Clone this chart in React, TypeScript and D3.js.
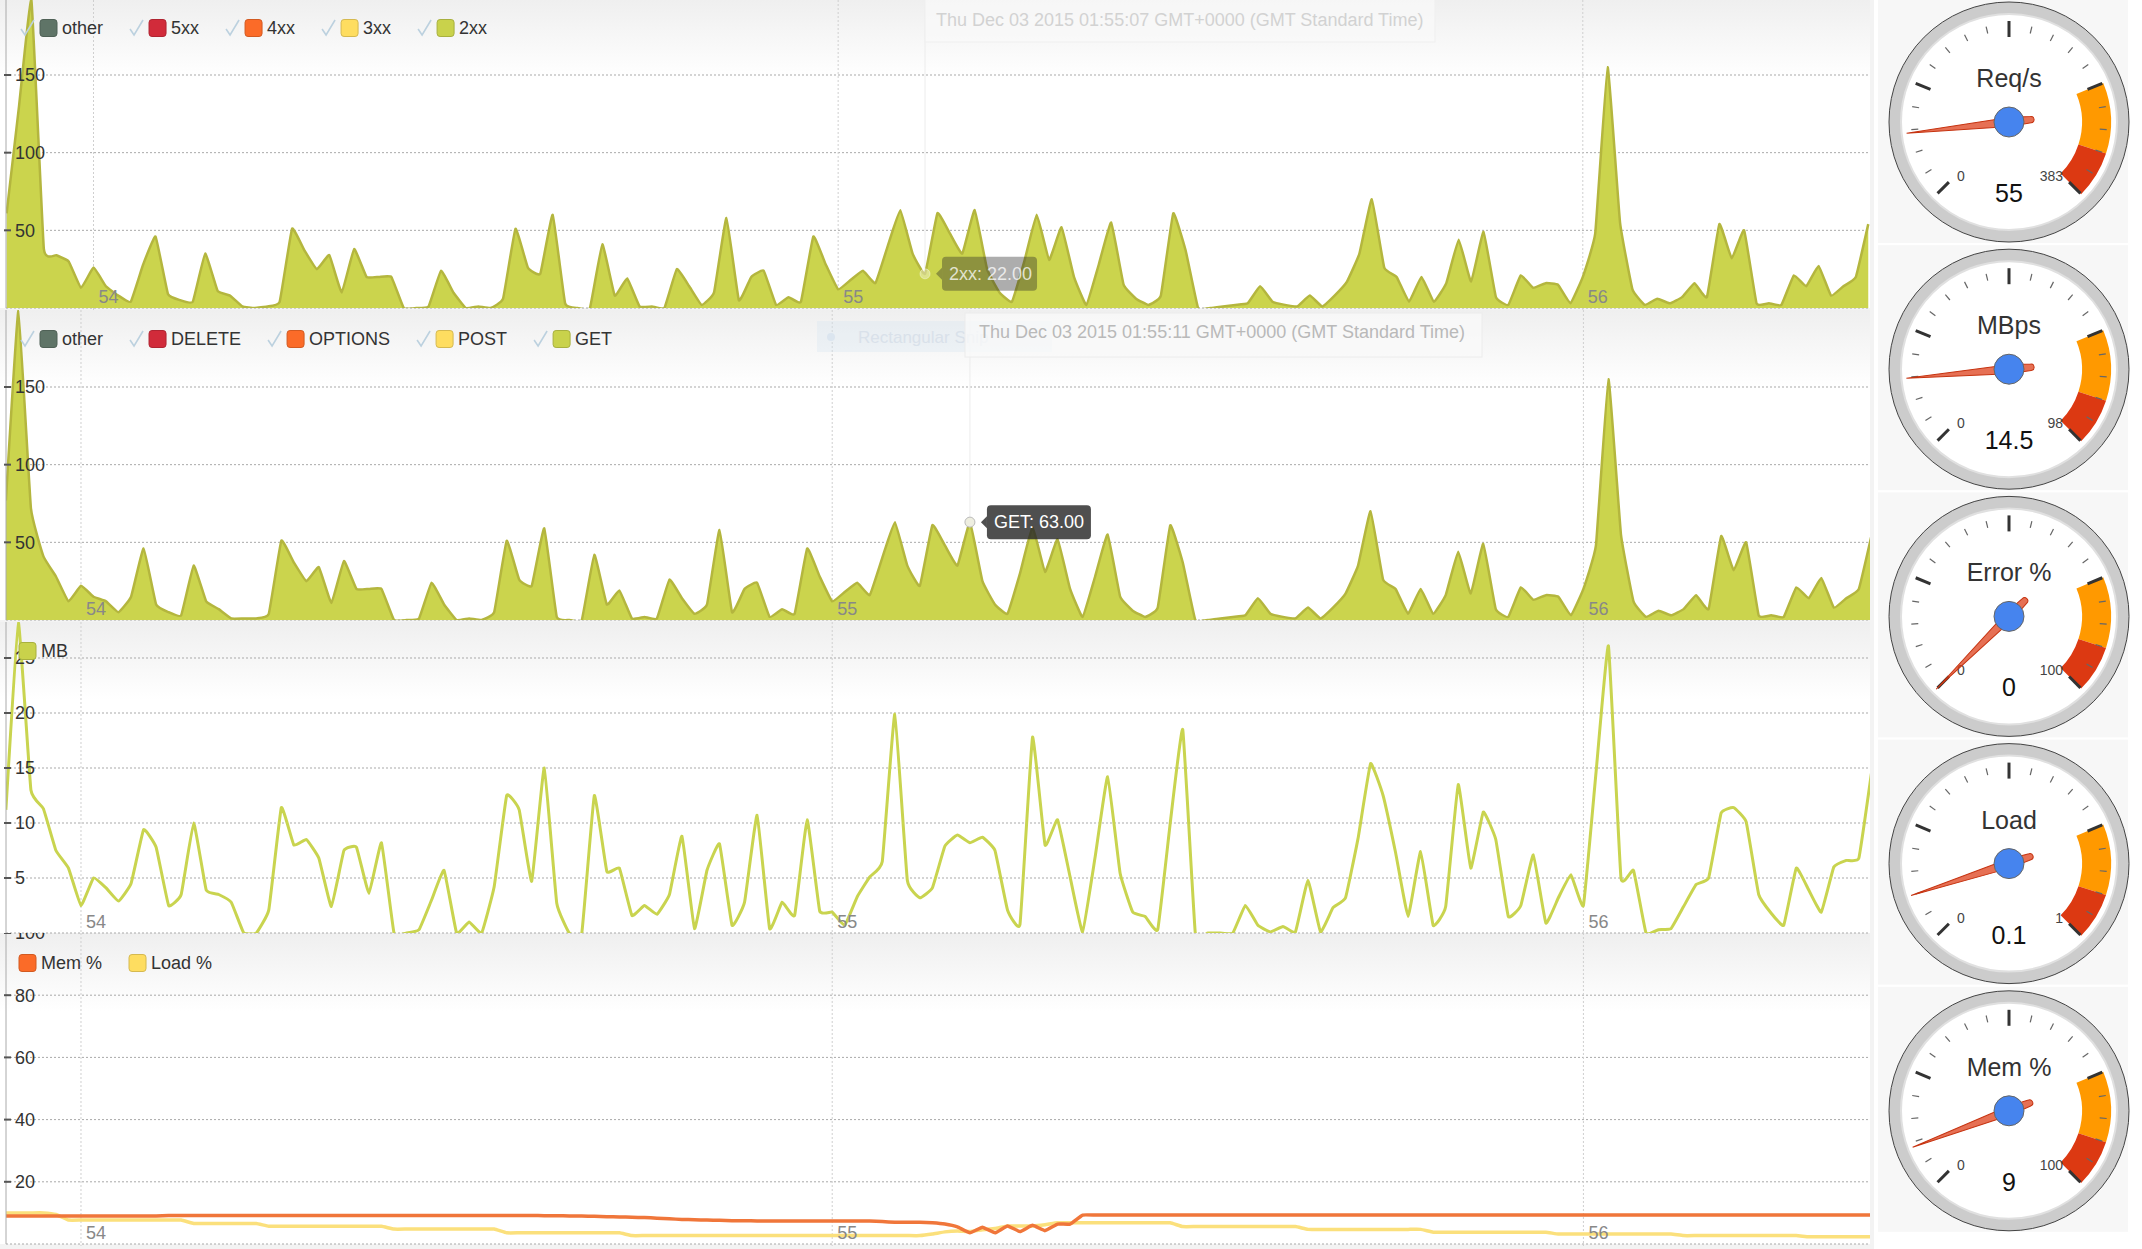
import React, { useEffect, useRef } from 'react';
import * as d3 from 'd3';

const W = 2142;
const H = 1249;
const FONT = '"Liberation Sans", Arial, Helvetica, sans-serif';

// samples are one per second, counted from 01:54:00
const statusStartSec = -7;
const status2xx = [
  61, 130, 198, 38, 34, 30, 13, 26, 14, 8,
  4, 28, 46, 9, 5, 4, 35, 11, 8, 1,
  0, 1, 4, 51, 37, 25, 34, 10, 38, 20,
  20, 20, 0, 0, 1, 24, 10, 0, 1, 0,
  6, 51, 26, 22, 60, 3, 0, 0, 41, 8,
  19, 1, 1, 0, 25, 14, 2, 10, 58, 5,
  20, 24, 2, 7, 4, 46, 28, 12, 18, 24,
  16, 40, 63, 35, 22, 61, 48, 35, 63, 25,
  10, 4, 30, 60, 31, 52, 20, 2, 28, 55,
  15, 6, 2, 8, 61, 37, 0, 0, 1, 2,
  3, 14, 4, 2, 1, 8, 1, 8, 17, 35,
  70, 26, 20, 4, 20, 4, 16, 44, 17, 49,
  7, 2, 21, 13, 16, 15, 3, 20, 48, 155,
  55, 12, 2, 6, 3, 7, 16, 7, 54, 32,
  50, 3, 3, 2, 21, 14, 27, 8, 14, 20,
  54
];

const methodStartSec = -6;
const methodGet = [
  77, 199, 72, 41, 28, 12, 22, 15, 12, 5,
  15, 46, 10, 5, 3, 35, 12, 7, 1, 1,
  1, 4, 51, 37, 25, 34, 11, 38, 20, 20,
  20, 0, 0, 1, 24, 10, 0, 1, 0, 5,
  51, 26, 22, 59, 2, 0, 0, 42, 10, 19,
  1, 2, 1, 26, 14, 4, 10, 58, 5, 20,
  24, 2, 7, 4, 46, 28, 12, 18, 24, 16,
  40, 63, 35, 22, 61, 48, 35, 63, 25, 10,
  4, 30, 60, 31, 52, 20, 2, 28, 55, 15,
  6, 2, 8, 61, 37, 0, 0, 1, 2, 3,
  14, 4, 2, 1, 8, 1, 8, 17, 35, 70,
  26, 20, 4, 20, 4, 16, 44, 17, 49, 7,
  2, 21, 13, 16, 15, 3, 20, 48, 155, 55,
  12, 2, 6, 3, 7, 16, 7, 54, 32, 50,
  3, 3, 2, 21, 14, 27, 8, 14, 20, 54
];

const mbValues = [
  11.2, 28.2, 13, 11.3, 7.5, 5.9, 2.5, 5, 4.1, 2.9,
  4.5, 9.4, 7.8, 2.5, 3.5, 10, 3.9, 3.5, 2.8, 0,
  0, 2.1, 11.4, 8, 8.5, 6.8, 2.4, 7.5, 7.8, 3.6,
  8.2, 0, 0, 0.3, 3, 5.7, 0, 1, 0, 4.2,
  12.5, 11.2, 4.7, 15, 2.7, 0, 0, 12.5, 5.6, 5.9,
  1.6, 2.5, 1.7, 3.5, 8.8, 0.4, 5.7, 8.1, 0.7, 2.8,
  10.7, 0.4, 2.8, 1.6, 10.3, 2, 1.9, 0.7, 3.3, 5.1,
  6.5, 19.9, 4.8, 3.2, 4.1, 7.9, 8.9, 8.2, 8.7, 7.5,
  2.1, 0.8, 17.8, 8, 10.3, 5.1, 0.1, 6.9, 14.2, 5.4,
  1.9, 1.5, 0.3, 10, 18.5, 0, 0, 0, 0, 2.5,
  0.7, 0.1, 0.6, 0.1, 4.8, 0.1, 2.3, 3.2, 8.6, 15.4,
  12.5, 7.3, 1.5, 7.4, 0.7, 2.4, 13.5, 5.9, 11, 8.5,
  1.5, 2.5, 7.1, 0.9, 3.2, 5.3, 2.5, 14.5, 26.1, 5,
  5.7, 0, 0.3, 0.4, 2.4, 4.4, 5, 10.9, 11.4, 10.1,
  3.5, 1.8, 0.7, 5.9, 3.9, 1.9, 6, 6.6, 6.8, 14.5
];

const memValues = [
  9, 9, 9, 9, 9, 9, 9, 9, 9, 9,
  9, 9, 9, 9.2, 9.2, 9.2, 9.2, 9.2, 9.2, 9.2,
  9.2, 9.2, 9.2, 9.2, 9.2, 9.2, 9.2, 9.2, 9.2, 9.2,
  9.2, 9.2, 9.2, 9.2, 9.2, 9.2, 9.2, 9.2, 9.2, 9.2,
  9.2, 9.2, 9.2, 9.1, 9.1, 9.0, 9.0, 8.9, 8.8, 8.7,
  8.6, 8.5, 8.3, 8.1, 7.9, 7.8, 7.7, 7.6, 7.5, 7.5,
  7.4, 7.4, 7.4, 7.4, 7.4, 7.4, 7.4, 7.4, 7.4, 7.4,
  7.2, 7.0, 7.0, 7.0, 6.8, 6.4, 5.5, 3.6, 5.4, 3.6,
  5.8, 4.0, 6.0, 4.3, 6.4, 6.4, 9.3, 9.3, 9.3, 9.3,
  9.3, 9.3, 9.3, 9.3, 9.3, 9.3, 9.3, 9.3, 9.3, 9.3,
  9.3, 9.3, 9.3, 9.3, 9.3, 9.3, 9.3, 9.3, 9.3, 9.3,
  9.3, 9.3, 9.3, 9.3, 9.3, 9.3, 9.3, 9.3, 9.3, 9.3,
  9.3, 9.3, 9.3, 9.3, 9.3, 9.3, 9.3, 9.3, 9.3, 9.3,
  9.3, 9.3, 9.3, 9.3, 9.3, 9.3, 9.3, 9.3, 9.3, 9.3,
  9.3, 9.3, 9.3, 9.3, 9.3, 9.3, 9.3, 9.3, 9.3, 9.3
];

const loadValues = [
  10, 10, 10, 10, 9.5, 7.7, 7.7, 7.7, 7.7, 7.7,
  7.7, 7.7, 7.7, 7.7, 7.7, 6.6, 6.6, 6.6, 6.6, 6.6,
  6.6, 5.7, 5.7, 5.7, 5.7, 5.7, 5.7, 5.7, 5.7, 5.7,
  5.7, 4.8, 4.8, 4.8, 4.8, 4.8, 4.8, 4.8, 4.8, 4.8,
  3.6, 3.6, 3.6, 3.6, 3.6, 3.6, 3.6, 3.6, 3.6, 3.6,
  2.7, 2.7, 2.7, 2.7, 2.7, 2.7, 2.7, 2.7, 2.7, 2.7,
  2.7, 2.7, 2.7, 2.7, 2.7, 2.7, 2.7, 2.7, 2.7, 2.7,
  2.7, 2.7, 2.7, 2.7, 3.2, 3.9, 4.2, 4.0, 4.6, 5.0,
  5.8, 5.8, 5.8, 6.2, 6.8, 6.8, 6.8, 6.8, 6.8, 6.8,
  6.8, 6.8, 6.8, 6.8, 5.6, 5.6, 5.6, 5.6, 5.6, 5.6,
  5.6, 5.6, 5.6, 5.6, 4.7, 4.7, 4.7, 4.7, 4.7, 4.7,
  4.7, 4.7, 4.7, 4.7, 3.8, 3.8, 3.8, 3.8, 3.8, 3.8,
  3.8, 3.8, 3.8, 3.8, 3.2, 3.2, 3.2, 3.2, 3.2, 3.2,
  3.2, 3.2, 3.2, 3.2, 2.7, 2.7, 2.7, 2.7, 2.7, 2.7,
  2.7, 2.7, 2.7, 2.7, 2.3, 2.3, 2.3, 2.3, 2.3, 2.3
];

const statusNames = ['other', '5xx', '4xx', '3xx', '2xx'];
const methodNames = ['other', 'DELETE', 'OPTIONS', 'POST', 'GET'];
const legendColors = ['#5f7467', '#d12b3a', '#fb6b28', '#fedd60', '#c9d24b'];
const mbNames = ['MB'];
const systemNames = ['Mem %', 'Load %'];
const systemColors = ['#fb6b28', '#fedd60'];

const reqTicks = [50, 100, 150];
const mbTicks = [5, 10, 15, 20, 25];
const pctTicks = [20, 40, 60, 80, 100];

const gaugeTitles = ['Req/s', 'MBps', 'Error %', 'Load', 'Mem %'];
const gaugeValues = [55, 14.5, 0, 0.1, 9];
const gaugeMax = [383, 98, 100, 1, 100];

const t0 = new Date(2015, 11, 3, 1, 54, 0);
const at = (s: number) => new Date(t0.getTime() + s * 1000);

const toPoints = (values: number[], start: number) =>
  values.map((v, i) => ({ date: at(start + i), v }));

export default function App() {
  const svgRef = useRef<SVGSVGElement>(null);

  useEffect(() => {
    if (!svgRef.current) return;
    const svg = d3.select(svgRef.current);
    svg.selectAll('*').remove();
    const defs = svg.append('defs');

    const fade = defs.append('linearGradient').attr('id', 'fade')
      .attr('x1', 0).attr('x2', 0).attr('y1', 0).attr('y2', 1);
    fade.append('stop').attr('offset', '0%').attr('stop-color', '#efefef');
    fade.append('stop').attr('offset', '100%').attr('stop-color', '#ffffff');

    // page background
    svg.append('rect').attr('width', W).attr('height', H).attr('fill', '#ffffff');
    svg.append('rect').attr('width', 1874).attr('height', H).attr('fill', '#f3f3f3');

    const curve = d3.curveCardinal.tension(0.7);

    const panels = [
      { top: 0, base: 308, yMax: 150, yMaxPos: 75, ticks: reqTicks, dom: [-7.05, 143.14] },
      { top: 310, base: 620, yMax: 150, yMaxPos: 387, ticks: reqTicks, dom: [-5.99, 142.89] },
      { top: 622, base: 933, yMax: 25, yMaxPos: 658, ticks: mbTicks, dom: [-5.99, 142.89] },
      { top: 933, base: 1244, yMax: 100, yMaxPos: 933, ticks: pctTicks, dom: [-5.99, 142.89] }
    ];

    const drawLegend = (g: any, names: string[], colors: string[], cy: number, checks: boolean) => {
      let cur = checks ? 20 : 19;
      names.forEach((name, i) => {
        let sx = cur;
        if (checks) {
          g.append('path')
            .attr('d', `M${cur + 1},${cy + 1} L${cur + 5},${cy + 7} L${cur + 14},${cy - 8}`)
            .attr('fill', 'none').attr('stroke', '#bcd1df').attr('stroke-width', 1.6);
          sx = cur + 20;
        }
        g.append('rect')
          .attr('x', sx).attr('y', cy - 8.5).attr('width', 17).attr('height', 17).attr('rx', 3)
          .attr('fill', colors[i])
          .attr('stroke', d3.color(colors[i])!.darker(0.5).toString()).attr('stroke-width', 1);
        const t = g.append('text')
          .attr('x', sx + 22).attr('y', cy).attr('dy', '0.35em')
          .style('font-family', FONT).style('font-size', '18px').style('fill', '#333')
          .text(name);
        const w = (t.node() as SVGTextElement).getComputedTextLength();
        cur = sx + 22 + w + (checks ? 26 : 27);
      });
    };

    const drawTip = (g: any, px: number, py: number, label: string, faded: boolean, boxW: number) => {
      const tg = g.append('g');
      tg.append('circle').attr('cx', px).attr('cy', py).attr('r', 5)
        .attr('fill', faded ? 'rgba(255,255,255,0.35)' : '#eeeee0')
        .attr('stroke', faded ? 'rgba(255,255,255,0.4)' : '#bbb').attr('stroke-width', 1);
      const bx = px + 17;
      const fill = faded ? 'rgba(40,40,40,0.38)' : 'rgba(40,40,40,0.82)';
      tg.append('path')
        .attr('d', `M${px + 11},${py} L${bx},${py - 6} L${bx},${py + 6} Z`)
        .attr('fill', fill);
      tg.append('rect').attr('x', bx).attr('y', py - 17).attr('width', boxW).attr('height', 34).attr('rx', 4)
        .attr('fill', fill);
      tg.append('text').attr('x', bx + 7).attr('y', py).attr('dy', '0.35em')
        .style('font-family', FONT).style('font-size', '18px')
        .style('fill', faded ? 'rgba(255,255,255,0.75)' : '#ffffff')
        .text(label);
    };

    const drawPanel = (i: number, series: any[], legend: () => void, extra?: (g: any, x: any, y: any) => void) => {
      const p = panels[i];
      const x = d3.scaleTime().domain([at(p.dom[0]), at(p.dom[1])]).range([6, 1870]);
      const y = d3.scaleLinear().domain([0, p.yMax]).range([p.base, p.yMaxPos]);

      defs.append('clipPath').attr('id', `pc${i}`).append('rect')
        .attr('x', 0).attr('y', p.top).attr('width', 1874).attr('height', p.base - p.top + 2);
      defs.append('clipPath').attr('id', `dc${i}`).append('rect')
        .attr('x', 6).attr('y', p.top).attr('width', 1864).attr('height', p.base - p.top);

      const g = svg.append('g').attr('clip-path', `url(#pc${i})`);
      g.append('rect').attr('x', 0).attr('y', p.top).attr('width', 1870).attr('height', p.base - p.top)
        .attr('fill', '#fff');
      g.append('rect').attr('x', 0).attr('y', p.top).attr('width', 1870).attr('height', 78)
        .attr('fill', 'url(#fade)');

      // horizontal grid
      g.selectAll('.hg').data(p.ticks).join('line')
        .attr('x1', 6).attr('x2', 1870)
        .attr('y1', d => y(d)).attr('y2', d => y(d))
        .attr('stroke', '#a9a9a9').attr('stroke-width', 1).attr('stroke-dasharray', '2,2');
      g.append('line').attr('x1', 6).attr('x2', 1870).attr('y1', p.base).attr('y2', p.base)
        .attr('stroke', '#a9a9a9').attr('stroke-dasharray', '2,2');

      // minute lines
      const minutes = x.ticks(d3.timeMinute.every(1)!);
      g.selectAll('.vg').data(minutes).join('line')
        .attr('x1', d => x(d)).attr('x2', d => x(d))
        .attr('y1', p.top).attr('y2', p.base + 2)
        .attr('stroke', '#cfcfcf').attr('stroke-width', 1).attr('stroke-dasharray', '2,2');

      if (extra) extra(g, x, y);

      const dg = g.append('g').attr('clip-path', `url(#dc${i})`);
      series.forEach(s => {
        const pts = toPoints(s.values, s.start);
        if (s.type === 'area') {
          const area = d3.area<any>().x(d => x(d.date)).y0(p.base).y1(d => y(d.v)).curve(curve);
          dg.append('path').attr('d', area(pts)!).attr('fill', s.color);
        }
        const line = d3.line<any>().x(d => x(d.date)).y(d => y(d.v)).curve(curve);
        dg.append('path').attr('d', line(pts)!)
          .attr('fill', 'none').attr('stroke', s.stroke).attr('stroke-width', s.width)
          .attr('stroke-linejoin', 'round');
      });

      // y axis
      g.append('line').attr('x1', 6).attr('x2', 6).attr('y1', p.top).attr('y2', p.base)
        .attr('stroke', '#aaa').attr('stroke-width', 1);
      g.selectAll('.yt').data(p.ticks).join('line')
        .attr('x1', 4).attr('x2', 11).attr('y1', d => y(d)).attr('y2', d => y(d))
        .attr('stroke', '#555').attr('stroke-width', 2);
      g.selectAll('.yl').data(p.ticks).join('text')
        .attr('x', 15).attr('y', d => y(d)).attr('dy', '0.35em')
        .style('font-family', FONT).style('font-size', '18px').style('fill', '#333')
        .text(d => String(d));

      // x labels
      g.selectAll('.xl').data(minutes).join('text')
        .attr('x', d => x(d) + 5).attr('y', p.base - 5)
        .style('font-family', FONT).style('font-size', '18px').style('fill', '#888')
        .text(d => d3.timeFormat('%M')(d));

      legend.call(null, g);
      return { g, x, y };
    };

    // panel 1: status codes
    const p1 = drawPanel(0, [
      { type: 'area', values: status2xx, start: statusStartSec, color: '#cbd44d', stroke: '#b4b63e', width: 2.5 }
    ], () => {}, (g, x) => {
      g.append('line').attr('x1', x(at(67))).attr('x2', x(at(67))).attr('y1', 0).attr('y2', 308)
        .attr('stroke', '#ececec');
    });
    drawLegend(p1.g, statusNames, legendColors, 28, true);
    p1.g.append('rect').attr('x', 925).attr('y', -2).attr('width', 510).attr('height', 44)
      .attr('fill', 'rgba(250,250,250,0.7)').attr('stroke', '#efefef');
    p1.g.append('text').attr('x', 936).attr('y', 26)
      .style('font-family', FONT).style('font-size', '18px').style('fill', '#d2d2d2')
      .text('Thu Dec 03 2015 01:55:07 GMT+0000 (GMT Standard Time)');
    drawTip(p1.g, p1.x(at(67)), p1.y(22), '2xx: 22.00', true, 95);

    // panel 2: methods
    const p2 = drawPanel(1, [
      { type: 'area', values: methodGet, start: methodStartSec, color: '#cbd44d', stroke: '#b4b63e', width: 2.5 }
    ], () => {}, (g, x) => {
      g.append('line').attr('x1', x(at(71))).attr('x2', x(at(71))).attr('y1', 310).attr('y2', 620)
        .attr('stroke', '#ececec');
    });
    drawLegend(p2.g, methodNames, legendColors, 339, true);
    p2.g.append('rect').attr('x', 817).attr('y', 321).attr('width', 235).attr('height', 31)
      .attr('fill', 'rgba(214,228,242,0.35)');
    p2.g.append('circle').attr('cx', 831).attr('cy', 337).attr('r', 4).attr('fill', '#dbe5ef');
    p2.g.append('text').attr('x', 858).attr('y', 343)
      .style('font-family', FONT).style('font-size', '17px').style('fill', '#d9e1ea')
      .text('Rectangular Snip');
    p2.g.append('rect').attr('x', 965).attr('y', 313).attr('width', 517).attr('height', 44)
      .attr('fill', 'rgba(250,250,250,0.75)').attr('stroke', '#ececec');
    p2.g.append('text').attr('x', 979).attr('y', 338)
      .style('font-family', FONT).style('font-size', '18px').style('fill', '#b9b9b9')
      .text('Thu Dec 03 2015 01:55:11 GMT+0000 (GMT Standard Time)');
    drawTip(p2.g, p2.x(at(71)), p2.y(63), 'GET: 63.00', false, 104);

    // panel 3: MB
    const p3 = drawPanel(2, [
      { type: 'line', values: mbValues, start: methodStartSec, stroke: '#c9d44f', width: 3 }
    ], () => {});
    drawLegend(p3.g, mbNames, ['#c9d24b'], 651, false);

    // panel 4: memory / load
    const p4 = drawPanel(3, [
      { type: 'line', values: loadValues, start: methodStartSec, stroke: '#fbe07c', width: 3.5 },
      { type: 'line', values: memValues, start: methodStartSec, stroke: '#f0763a', width: 3.5 }
    ], () => {});
    drawLegend(p4.g, systemNames, systemColors, 963, false);

    // gauges
    gaugeTitles.forEach((title, i) => {
      const cx = 2009;
      const cy = 122 + i * 247.2;
      const max = gaugeMax[i];
      const ang = d3.scaleLinear().domain([0, max]).range([-0.75 * Math.PI, 0.75 * Math.PI]);
      const g = svg.append('g');
      g.append('rect').attr('x', 1878).attr('y', cy - 124).attr('width', 250).attr('height', 245)
        .attr('fill', '#f7f7f7');
      g.append('circle').attr('cx', cx).attr('cy', cy).attr('r', 120)
        .attr('fill', '#cccccc').attr('stroke', '#444').attr('stroke-width', 1);
      g.append('circle').attr('cx', cx).attr('cy', cy).attr('r', 108)
        .attr('fill', '#ffffff').attr('stroke', '#e0e0e0').attr('stroke-width', 2);

      const arc = d3.arc();
      const bands = [
        { from: 0.75, to: 0.9, color: '#ff9900' },
        { from: 0.9, to: 1, color: '#dc3912' }
      ];
      bands.forEach(b => {
        g.append('path')
          .attr('transform', `translate(${cx},${cy})`)
          .attr('d', arc({ innerRadius: 73, outerRadius: 102, startAngle: ang(b.from * max), endAngle: ang(b.to * max) } as any)!)
          .attr('fill', b.color);
      });

      d3.range(21).forEach(k => {
        const a = ang((k / 20) * max);
        const major = k % 5 === 0;
        const r0 = major ? 85 : 91;
        const r1 = major ? 101 : 98;
        g.append('line')
          .attr('x1', cx + r0 * Math.sin(a)).attr('y1', cy - r0 * Math.cos(a))
          .attr('x2', cx + r1 * Math.sin(a)).attr('y2', cy - r1 * Math.cos(a))
          .attr('stroke', major ? '#333' : '#666').attr('stroke-width', major ? 3 : 1.2);
      });

      g.append('text').attr('x', cx - 52).attr('y', cy + 59)
        .style('font-family', FONT).style('font-size', '14px').style('fill', '#444')
        .text('0');
      g.append('text').attr('x', cx + 54).attr('y', cy + 59).attr('text-anchor', 'end')
        .style('font-family', FONT).style('font-size', '14px').style('fill', '#444')
        .text(String(max));
      g.append('text').attr('x', cx).attr('y', cy - 35).attr('text-anchor', 'middle')
        .style('font-family', FONT).style('font-size', '25px').style('fill', '#333')
        .text(title);
      g.append('text').attr('x', cx).attr('y', cy + 80).attr('text-anchor', 'middle')
        .style('font-family', FONT).style('font-size', '25px').style('fill', '#111')
        .text(String(gaugeValues[i]));

      const deg = (ang(gaugeValues[i]) * 180) / Math.PI - 90;
      g.append('path')
        .attr('transform', `translate(${cx},${cy}) rotate(${deg})`)
        .attr('d', 'M103,0 L0,-4.5 L-22,-3.2 A3.2,3.2 0 0 0 -22,3.2 L0,4.5 Z')
        .attr('fill', '#dc3912').attr('fill-opacity', 0.72)
        .attr('stroke', '#c63310').attr('stroke-width', 1);
      g.append('circle').attr('cx', cx).attr('cy', cy).attr('r', 15)
        .attr('fill', '#4684ee').attr('stroke', '#666').attr('stroke-width', 1);
    });
  }, []);

  return (
    <div style={{ position: 'absolute', left: 0, top: 0 }}>
      <svg ref={svgRef} width={W} height={H} style={{ display: 'block' }} />
    </div>
  );
}
